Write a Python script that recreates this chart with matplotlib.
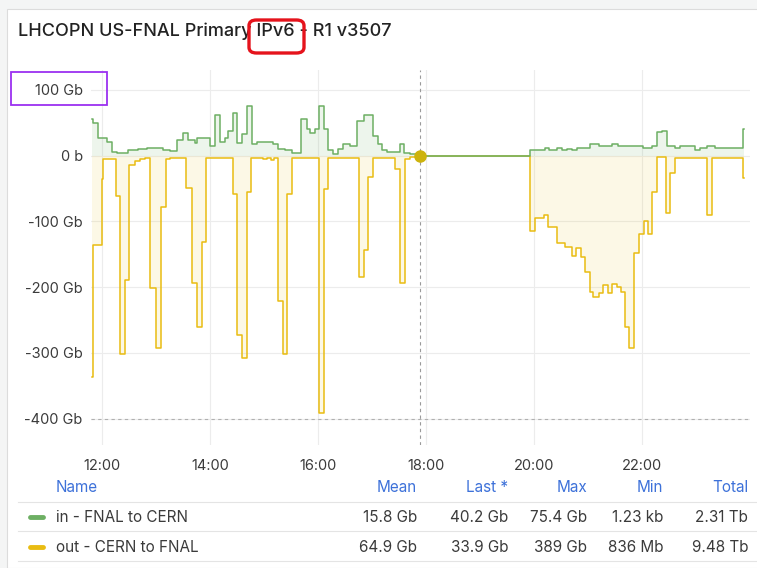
import numpy as np
import matplotlib
matplotlib.use('Agg')
from matplotlib import pyplot as plt
from matplotlib.patches import FancyBboxPatch, Rectangle

plt.rcParams['font.family'] = ['Inter', 'DejaVu Sans']

TITLE = 'LHCOPN US-FNAL Primary IPv6 - R1 v3507'

# step change times and values (Gb), in = FNAL to CERN
in_times = ['11:49', '11:50', '11:56', '12:06', '12:11', '12:17', '12:29', '12:40', '12:50',
            '13:08', '13:16', '13:24', '13:30', '13:36', '13:43', '13:46', '14:00', '14:06',
            '14:11', '14:17', '14:20', '14:26', '14:30', '14:36', '14:41', '14:47', '14:52',
            '14:59', '15:10', '15:16', '15:23', '15:31', '15:41', '15:48', '15:51', '15:57',
            '16:01', '16:07', '16:11', '16:17', '16:22', '16:28', '16:36', '16:44', '16:51',
            '17:01', '17:07', '17:11', '17:17', '17:26', '17:31', '17:36', '17:42', '17:50',
            '19:56', '20:12', '20:17', '20:26', '20:31', '20:37', '20:42', '20:48', '21:02',
            '21:12', '21:27', '21:33', '21:43', '21:50', '22:01', '22:11', '22:17', '22:22',
            '22:28', '22:37', '22:42', '22:59', '23:04', '23:12', '23:21', '23:52', '23:53']
in_values = [55, 50, 26, 21, 6, 4, 8, 10, 12,
             9, 7, 24, 35, 24, 19, 27, 14, 61,
             21, 27, 37, 65, 19, 32, 75, 17, 21,
             20, 17, 10, 8, 4, 55, 40, 35, 40,
             75, 40, 9, 3, 10, 17, 15, 53, 62,
             29, 17, 8, 6, 5, 18, 4, 3, 0,
             8, 12, 9, 12, 9, 10, 8, 11, 18,
             14, 17, 14, 15, 14, 12, 14, 36, 38,
             15, 12, 14, 9, 12, 14, 12, 40, 40]

# out = CERN to FNAL (drawn negative)
out_times = ['11:49', '11:50', '12:00', '12:01', '12:16', '12:20', '12:26', '12:30', '12:37',
             '12:42', '12:48', '12:54', '13:00', '13:06', '13:11', '13:16', '13:34', '13:40',
             '13:46', '13:51', '13:56', '14:26', '14:30', '14:36', '14:41', '14:46', '14:59',
             '15:04', '15:08', '15:11', '15:16', '15:21', '15:26', '15:31', '16:01', '16:07',
             '16:11', '16:46', '16:51', '16:56', '17:01', '17:26', '17:31', '17:37', '17:42',
             '17:50', '19:56', '20:01', '20:11', '20:16', '20:26', '20:34', '20:42', '20:47',
             '20:52', '20:57', '21:02', '21:06', '21:12', '21:17', '21:22', '21:27', '21:32',
             '21:37', '21:41', '21:46', '21:51', '21:57', '22:02', '22:07', '22:11', '22:17',
             '22:27', '22:31', '22:37', '23:12', '23:18', '23:52', '23:53']
out_values = [-337, -136, -35, -5, -62, -302, -189, -15, -8,
              -5, -3, -201, -293, -78, -6, -3, -49, -194,
              -260, -131, -3, -58, -273, -308, -56, -3, -6,
              -3, -7, -3, -221, -302, -59, -4, -392, -51,
              -4, -185, -143, -32, -3, -20, -194, -6, -2,
              0, -114, -95, -90, -108, -133, -139, -152, -140,
              -154, -177, -207, -215, -209, -197, -209, -195, -200,
              -207, -260, -293, -148, -120, -100, -120, -55, -2,
              -88, -27, -3, -90, -3, -34, -34]

hover_time = '17:54'

y_ticks = [100, 0, -100, -200, -300, -400]
y_labels = ['100 Gb', '0 b', '-100 Gb', '-200 Gb', '-300 Gb', '-400 Gb']
x_ticks = [12, 14, 16, 18, 20, 22]

legend_cols = ['Mean', 'Last *', 'Max', 'Min', 'Total']
legend_names = ['in - FNAL to CERN', 'out - CERN to FNAL']
legend_rows = [['15.8 Gb', '40.2 Gb', '75.4 Gb', '1.23 kb', '2.31 Tb'],
               ['64.9 Gb', '33.9 Gb', '389 Gb', '836 Mb', '9.48 Tb']]

GREEN = '#6DAF63'
YELLOW = '#E9BC12'
BLUE = '#3D71D9'
TEXT = '#3b3b3b'


def to_hours(times):
    return np.array([int(t[:2]) + int(t[3:]) / 60 for t in times])


def px_x(x):
    return x / 757


def px_y(y):
    return 1 - y / 568


def main():
    fig = plt.figure(figsize=(7.57, 5.68), dpi=100)
    fig.patch.set_facecolor('#f4f5f5')
    fig.patches.append(Rectangle((px_x(7), 0), 1, px_y(9), transform=fig.transFigure,
                                 facecolor='white', edgecolor='#dcdcdc', lw=0.8, zorder=-5))

    fig.text(px_x(18), px_y(31), TITLE, fontsize=13, color='#222222',
             fontweight='medium', va='center', ha='left')

    ax = fig.add_axes([px_x(91), px_y(445), px_x(750 - 91), (445 - 70) / 568])
    ax.patch.set_alpha(0)
    t_in, t_out = to_hours(in_times), to_hours(out_times)
    v_in, v_out = np.array(in_values), np.array(out_values)

    ax.fill_between(t_out, v_out, 0, step='post', color=YELLOW, alpha=0.1, lw=0)
    ax.fill_between(t_in, v_in, 0, step='post', color=GREEN, alpha=0.12, lw=0)
    ax.step(t_out, v_out, where='post', color=YELLOW, lw=1.1)
    ax.step(t_in, v_in, where='post', color=GREEN, lw=1.1)

    hx = to_hours([hover_time])[0]
    ax.axvline(hx, color='#9a9a9a', lw=0.8, ls=(0, (3, 3)), zorder=4)
    ax.plot([hx], [0], 'o', color='#CDB30C', ms=8, zorder=5)
    ax.axhline(-400, color='#b0b0b0', lw=0.8, ls=(0, (3, 3)))

    ax.set_xlim(to_hours(['11:48'])[0], 24.0)
    ax.set_ylim(-440, 130)
    ax.set_yticks(y_ticks)
    ax.set_yticklabels(y_labels)
    ax.set_xticks(x_ticks)
    ax.set_xticklabels([f'{h}:00' for h in x_ticks])
    ax.grid(True, color='#ececec', lw=0.8)
    ax.set_axisbelow(True)
    for s in ax.spines.values():
        s.set_visible(False)
    ax.tick_params(length=0, labelsize=10.5, labelcolor=TEXT, pad=6)
    ax.tick_params(axis='x', pad=10)

    # legend table
    col_x = [417, 508, 587, 663, 748]
    fs = 11
    fig.text(px_x(56), px_y(488), 'Name', color=BLUE, fontsize=fs, va='center')
    for cx, name in zip(col_x, legend_cols):
        fig.text(px_x(cx), px_y(488), name, color=BLUE, fontsize=fs, va='center', ha='right')
    for ly in [502, 531, 561]:
        fig.lines.append(plt.Line2D([px_x(18), 1], [px_y(ly), px_y(ly)], transform=fig.transFigure,
                                    color='#e4e4e4', lw=0.8))
    for row_y, name, vals, col in zip([517, 547], legend_names, legend_rows, [GREEN, YELLOW]):
        fig.lines.append(plt.Line2D([px_x(30), px_x(43)], [px_y(row_y), px_y(row_y)],
                                    transform=fig.transFigure, color=col, lw=3.5,
                                    solid_capstyle='round'))
        fig.text(px_x(56), px_y(row_y), name, color=TEXT, fontsize=fs, va='center')
        for cx, v in zip(col_x, vals):
            fig.text(px_x(cx), px_y(row_y), v, color=TEXT, fontsize=fs, va='center', ha='right')

    # highlight boxes
    fig.patches.append(FancyBboxPatch((px_x(249), px_y(53)), px_x(55), (53 - 20) / 568,
                                      boxstyle='round,pad=0,rounding_size=0.01',
                                      transform=fig.transFigure, facecolor='none',
                                      edgecolor='#e5131c', lw=2.4, zorder=10))
    fig.patches.append(Rectangle((px_x(11), px_y(105)), px_x(96), (105 - 72) / 568,
                                 transform=fig.transFigure, facecolor='none',
                                 edgecolor='#9b30f0', lw=1.3, zorder=10))

    fig.savefig('out.png', dpi=100, facecolor=fig.get_facecolor())


if __name__ == '__main__':
    main()
